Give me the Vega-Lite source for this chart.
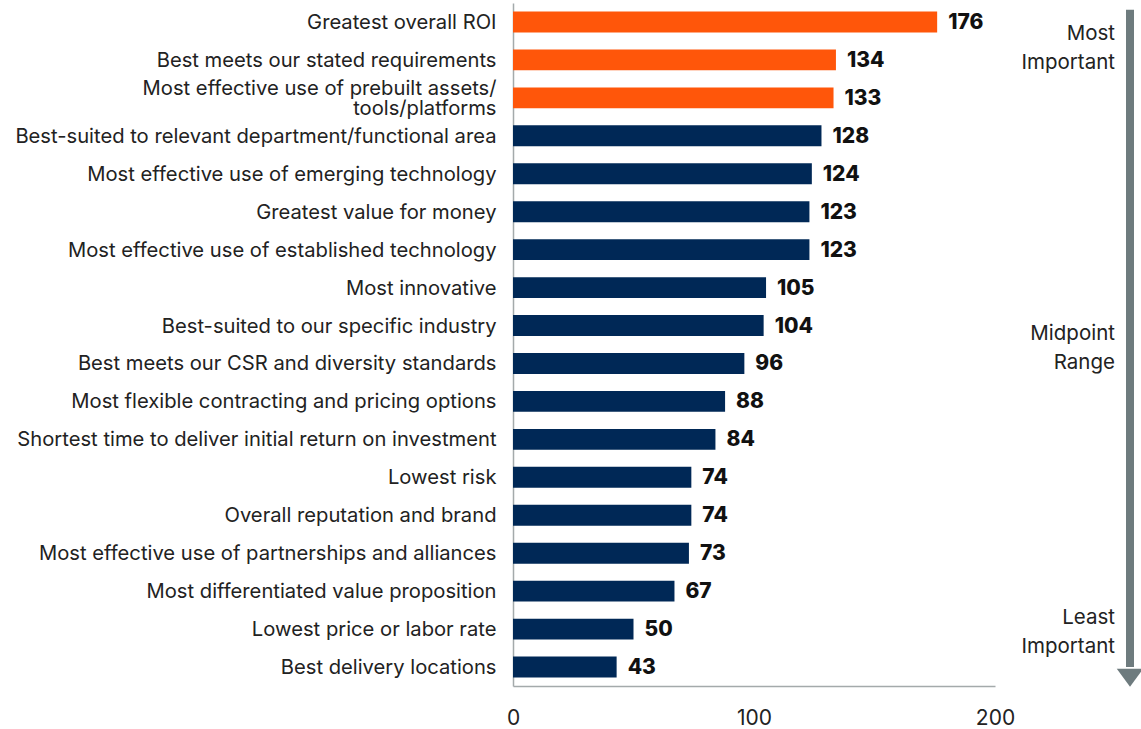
{
  "$schema": "https://vega.github.io/schema/vega-lite/v6.json",
  "padding": {"left": 14, "top": 3, "right": 0, "bottom": 0},
  "bounds": "flush",
  "spacing": 0,
  "background": "white",
  "config": {
    "view": {"stroke": null},
    "font": "Inter",
    "axis": {"labelFont": "Inter", "labelColor": "#222222", "labelFontSize": 20.2, "labelFontWeight": "normal"}
  },
  "datasets": {
    "bars": [
      {"label": "Greatest overall ROI", "value": 176, "rank": 1, "group": "top"},
      {"label": "Best meets our stated requirements", "value": 134, "rank": 2, "group": "top"},
      {"label": "Most effective use of prebuilt assets/|tools/platforms", "value": 133, "rank": 3, "group": "top"},
      {"label": "Best-suited to relevant department/functional area", "value": 128, "rank": 4, "group": "other"},
      {"label": "Most effective use of emerging technology", "value": 124, "rank": 5, "group": "other"},
      {"label": "Greatest value for money", "value": 123, "rank": 6, "group": "other"},
      {"label": "Most effective use of established technology", "value": 123, "rank": 7, "group": "other"},
      {"label": "Most innovative", "value": 105, "rank": 8, "group": "other"},
      {"label": "Best-suited to our specific industry", "value": 104, "rank": 9, "group": "other"},
      {"label": "Best meets our CSR and diversity standards", "value": 96, "rank": 10, "group": "other"},
      {"label": "Most flexible contracting and pricing options", "value": 88, "rank": 11, "group": "other"},
      {"label": "Shortest time to deliver initial return on investment", "value": 84, "rank": 12, "group": "other"},
      {"label": "Lowest risk", "value": 74, "rank": 13, "group": "other"},
      {"label": "Overall reputation and brand", "value": 74, "rank": 14, "group": "other"},
      {"label": "Most effective use of partnerships and alliances", "value": 73, "rank": 15, "group": "other"},
      {"label": "Most differentiated value proposition", "value": 67, "rank": 16, "group": "other"},
      {"label": "Lowest price or labor rate", "value": 50, "rank": 17, "group": "other"},
      {"label": "Best delivery locations", "value": 43, "rank": 18, "group": "other"}
    ],
    "notes": [
      {"text": "Most\nImportant", "px": 120, "py": 4.5},
      {"text": "Midpoint\nRange", "px": 120, "py": 48.5},
      {"text": "Least\nImportant", "px": 120, "py": 90.0}
    ],
    "arrow": [
      {"px": 135, "top": 1.0, "bottom": 97.2, "head": 98.8}
    ]
  },
  "hconcat": [
    {
      "width": 482,
      "height": 683,
      "data": {"name": "bars"},
      "encoding": {
        "y": {
          "field": "label",
          "type": "nominal",
          "sort": {"field": "rank", "order": "ascending"},
          "scale": {"paddingInner": 0.45, "paddingOuter": 0.225},
          "axis": {
            "title": null,
            "ticks": false,
            "labelPadding": 17,
            "labelLimit": 600,
            "labelLineHeight": 20,
            "labelExpr": "split(datum.label, '|')",
            "labelOffset": {"condition": {"test": "indexof(datum.value, '|') >= 0", "value": -9}, "value": 1},
            "domainColor": "#A4AAAB",
            "domainWidth": 1.5
          }
        },
        "x": {
          "field": "value",
          "type": "quantitative",
          "scale": {"domain": [0, 200], "nice": false},
          "axis": {
            "title": null,
            "values": [0, 100, 200],
            "ticks": false,
            "grid": false,
            "labelFlush": false,
            "labelPadding": 21,
            "labelFontSize": 21,
            "domainColor": "#A4AAAB",
            "domainWidth": 1.5
          }
        }
      },
      "layer": [
        {
          "mark": {"type": "bar"},
          "encoding": {
            "color": {
              "field": "group",
              "type": "nominal",
              "scale": {"domain": ["top", "other"], "range": ["#FF560A", "#002856"]},
              "legend": null
            }
          }
        },
        {
          "mark": {"type": "text", "align": "left", "baseline": "middle", "dx": 11, "dy": 1, "fontSize": 21, "fontWeight": 800, "color": "#111111", "font": "Inter"},
          "encoding": {"text": {"field": "value", "type": "quantitative"}}
        }
      ]
    },
    {
      "width": 147,
      "height": 683,
      "layer": [
        {
          "data": {"name": "arrow"},
          "mark": {"type": "rule", "strokeWidth": 8, "color": "#6E7B7E"},
          "encoding": {
            "x": {"field": "px", "type": "quantitative", "scale": {"domain": [0, 147], "nice": false, "zero": true}, "axis": null},
            "y": {"field": "top", "type": "quantitative", "scale": {"domain": [0, 100], "reverse": true, "nice": false}, "axis": null},
            "y2": {"field": "bottom"}
          }
        },
        {
          "data": {"name": "arrow"},
          "mark": {"type": "point", "filled": true, "opacity": 1, "shape": "M-1,-0.68L1,-0.68L0,0.68Z", "size": 700, "color": "#6E7B7E"},
          "encoding": {
            "x": {"field": "px", "type": "quantitative"},
            "y": {"field": "head", "type": "quantitative"}
          }
        },
        {
          "data": {"name": "notes"},
          "mark": {"type": "text", "align": "right", "baseline": "middle", "fontSize": 20.5, "lineHeight": 29, "lineBreak": "\n", "color": "#222222", "font": "Inter"},
          "encoding": {
            "x": {"field": "px", "type": "quantitative"},
            "y": {"field": "py", "type": "quantitative"},
            "text": {"field": "text"}
          }
        }
      ]
    }
  ]
}
